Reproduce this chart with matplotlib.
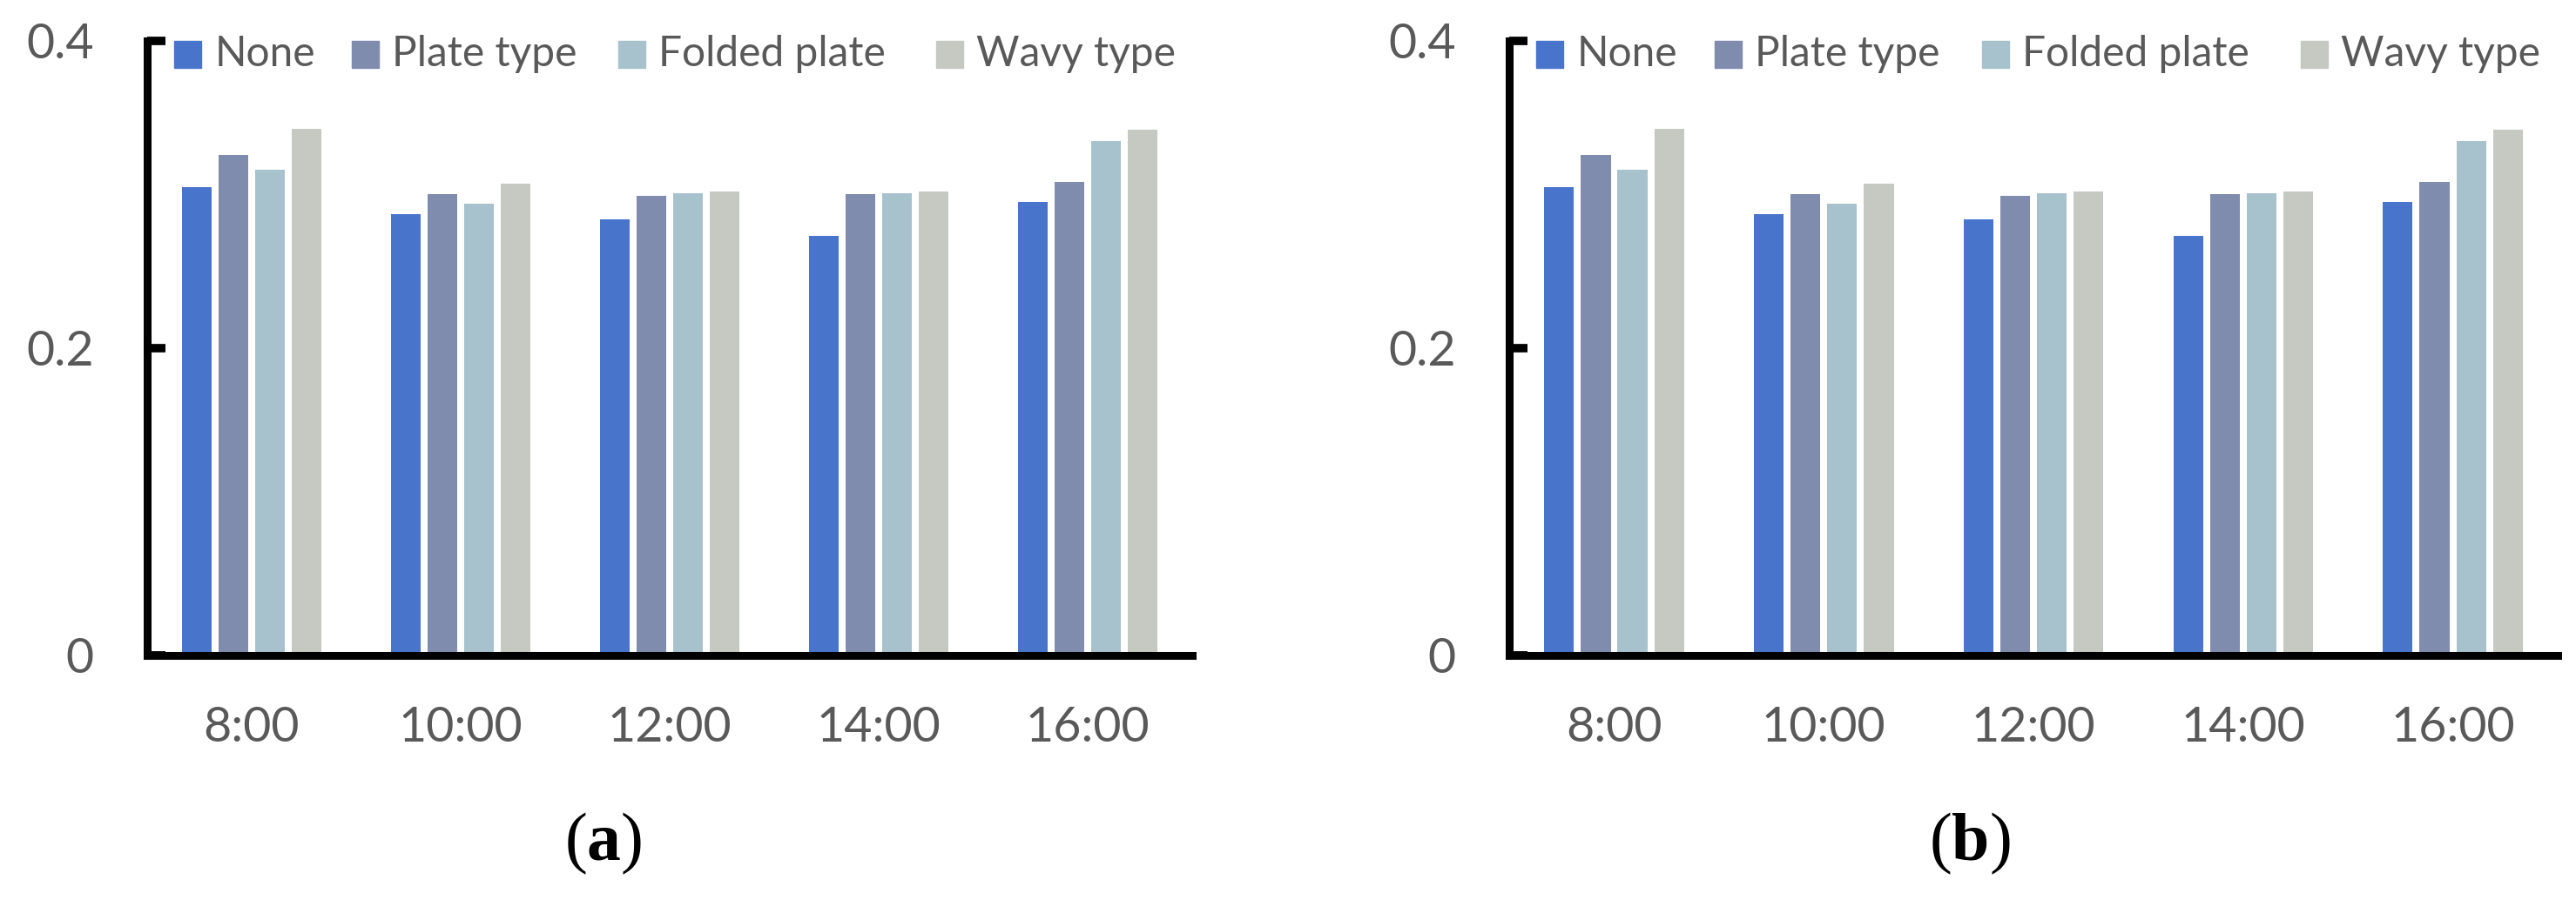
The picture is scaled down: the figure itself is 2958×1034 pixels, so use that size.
"""Grouped bar chart of the four shading types at five times of day, panels (a) and (b)."""
import numpy as np
import matplotlib.pyplot as plt
from matplotlib.patches import Rectangle

plt.rcParams["font.family"] = ["Lato", "DejaVu Sans"]
plt.rcParams["mathtext.fontset"] = "custom"
plt.rcParams["mathtext.rm"] = "Liberation Serif"
plt.rcParams["mathtext.bf"] = "Liberation Serif:bold"

# ------------------------------------------------------------------ #
# data                                                               #
# ------------------------------------------------------------------ #
times = ["8:00", "10:00", "12:00", "14:00", "16:00"]
series_names = ["None", "Plate type", "Folded plate", "Wavy type"]

none_a = [0.305, 0.287, 0.284, 0.273, 0.295]
plate_a = [0.326, 0.300, 0.299, 0.300, 0.308]
folded_a = [0.316, 0.294, 0.301, 0.301, 0.335]
wavy_a = [0.343, 0.307, 0.302, 0.302, 0.342]

none_b = [0.305, 0.287, 0.284, 0.273, 0.295]
plate_b = [0.326, 0.300, 0.299, 0.300, 0.308]
folded_b = [0.316, 0.294, 0.301, 0.301, 0.335]
wavy_b = [0.343, 0.307, 0.302, 0.302, 0.342]

y_ticks = [0, 0.2, 0.4]
y_tick_labels = ["0", "0.2", "0.4"]

colors = ["#4874CB", "#7F8CAE", "#A7C2CC", "#C5C9C2"]
text_color = "#595959"

# legend entry start (axes fraction), legend row centre
legend_x = [0.026, 0.196, 0.451, 0.755]
legend_y = 0.978


def draw_legend(ax):
    # square patches sized in pixels, converted to axes fraction
    bbox = ax.get_window_extent()
    w = 31 / bbox.width
    h = 31 / bbox.height
    gap = 15 / bbox.width
    for x0, name, col in zip(legend_x, series_names, colors):
        ax.add_patch(Rectangle((x0, legend_y - h / 2), w, h, transform=ax.transAxes,
                               color=col, clip_on=False, zorder=4))
        ax.text(x0 + w + gap, legend_y, name, transform=ax.transAxes, fontsize=34.5,
                color=text_color, ha="left", va="center")


def draw_panel(ax, series):
    x = np.arange(len(times))
    pitch, width = 0.175, 0.142
    for i, (vals, name, col) in enumerate(zip(series, series_names, colors)):
        ax.bar(x + (i - 1.5) * pitch, vals, width=width, color=col, label=name, zorder=1)

    ax.set_xlim(-0.5, len(times) - 0.5)
    ax.set_ylim(0, 0.4)
    ax.set_xticks(x)
    ax.set_xticklabels(times)
    ax.set_yticks(y_ticks)
    ax.set_yticklabels(y_tick_labels)

    for side in ("top", "right"):
        ax.spines[side].set_visible(False)
    for side in ("left", "bottom"):
        ax.spines[side].set_linewidth(6.5)
        ax.spines[side].set_color("black")
        ax.spines[side].set_capstyle("projecting")
        ax.spines[side].set_zorder(3)

    ax.tick_params(axis="x", length=0, pad=42, labelsize=40, labelcolor=text_color)
    ax.tick_params(axis="y", direction="in", length=15, width=7, pad=44,
                   labelsize=40, labelcolor=text_color, color="black")

    draw_legend(ax)


fig = plt.figure(figsize=(29.58, 10.34), dpi=100)
ax_a = fig.add_axes([0.05713, 0.2718, 0.4057, 0.6828])
ax_b = fig.add_axes([0.5859, 0.2718, 0.4070, 0.6828])

draw_panel(ax_a, [none_a, plate_a, folded_a, wavy_a])
draw_panel(ax_b, [none_b, plate_b, folded_b, wavy_b])

# panel captions
fig.text(0.2343, 0.0630, r"($\mathbf{a}$)", family="Liberation Serif", fontsize=56,
         ha="center", va="center", color="black")
fig.text(0.7647, 0.0630, r"($\mathbf{b}$)", family="Liberation Serif", fontsize=56,
         ha="center", va="center", color="black")

fig.savefig("out.png", dpi=100)
